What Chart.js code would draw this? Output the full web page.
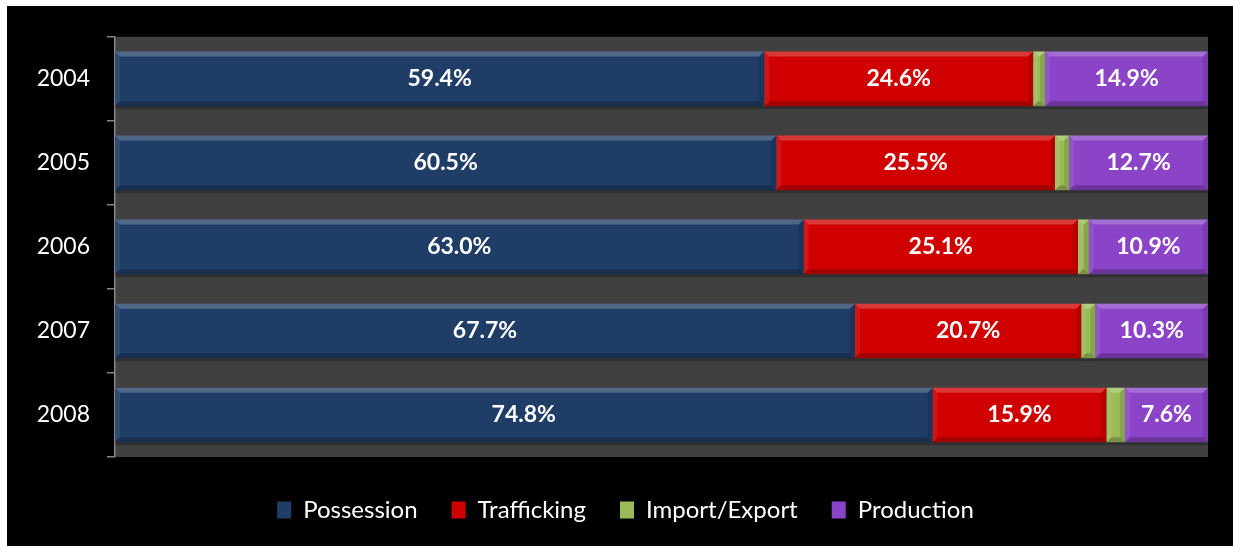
<!DOCTYPE html>
<html>
<head>
<meta charset="utf-8">
<script src="https://cdn.jsdelivr.net/npm/chart.js@4/dist/chart.umd.min.js"></script>
<style>
  html, body { margin: 0; padding: 0; background: #ffffff; }
  #wrap { position: absolute; left: 7px; top: 6px; width: 1226px; height: 540px; background: #000000; }
  canvas { display: block; }
</style>
</head>
<body>
<div id="wrap"><canvas id="c" width="1226" height="540"></canvas></div>
<script>
const categories = ['2004', '2005', '2006', '2007', '2008'];
const seriesNames = ['Possession', 'Trafficking', 'Import/Export', 'Production'];
const possession = [59.4, 60.5, 63.0, 67.7, 74.8];
const trafficking = [24.6, 25.5, 25.1, 20.7, 15.9];
const importExport = [1.1, 1.3, 1.0, 1.3, 1.7];
const production = [14.9, 12.7, 10.9, 10.3, 7.6];
const seriesColors = ['#1F3D67', '#D00000', '#9BBB59', '#8B44C8'];
const showLabels = [true, true, false, true];

const seriesValues = [possession, trafficking, importExport, production];

const plotBg = {
  id: 'plotBg',
  beforeDraw(chart) {
    const { ctx, chartArea: a } = chart;
    ctx.save();
    ctx.fillStyle = '#404040';
    ctx.fillRect(a.left, a.top, a.right - a.left, a.bottom - a.top);
    ctx.restore();
  }
};

const bevel = {
  id: 'bevel',
  afterDatasetsDraw(chart) {
    const ctx = chart.ctx;
    ctx.save();
    chart.data.datasets.forEach((ds, di) => {
      const meta = chart.getDatasetMeta(di);
      meta.data.forEach(el => {
        const x0 = Math.min(el.base, el.x), x1 = Math.max(el.base, el.x);
        const y0 = el.y - el.height / 2, y1 = el.y + el.height / 2;
        const b = Math.min(5, (x1 - x0) / 2);
        ctx.fillStyle = 'rgba(255,255,255,0.22)';
        ctx.beginPath(); ctx.moveTo(x0, y0); ctx.lineTo(x1, y0); ctx.lineTo(x1 - b, y0 + 5); ctx.lineTo(x0 + b, y0 + 5); ctx.closePath(); ctx.fill();
        ctx.fillStyle = 'rgba(0,0,0,0.22)';
        ctx.beginPath(); ctx.moveTo(x0, y1); ctx.lineTo(x1, y1); ctx.lineTo(x1 - b, y1 - 5); ctx.lineTo(x0 + b, y1 - 5); ctx.closePath(); ctx.fill();
        ctx.fillStyle = 'rgba(255,255,255,0.08)';
        ctx.beginPath(); ctx.moveTo(x0, y0); ctx.lineTo(x0 + b, y0 + 5); ctx.lineTo(x0 + b, y1 - 5); ctx.lineTo(x0, y1); ctx.closePath(); ctx.fill();
        ctx.fillStyle = 'rgba(0,0,0,0.12)';
        ctx.beginPath(); ctx.moveTo(x1, y0); ctx.lineTo(x1 - b, y0 + 5); ctx.lineTo(x1 - b, y1 - 5); ctx.lineTo(x1, y1); ctx.closePath(); ctx.fill();
        ctx.fillStyle = 'rgba(0,0,0,0.25)';
        ctx.fillRect(x0, y1, x1 - x0, 3);
      });
    });
    ctx.restore();
  }
};

const valueLabels = {
  id: 'valueLabels',
  afterDatasetsDraw(chart) {
    const ctx = chart.ctx;
    ctx.save();
    ctx.font = 'bold 23px Lato, "Open Sans", sans-serif';
    ctx.fillStyle = '#ffffff';
    ctx.textAlign = 'center';
    ctx.textBaseline = 'middle';
    chart.data.datasets.forEach((ds, di) => {
      if (!showLabels[di]) return;
      const meta = chart.getDatasetMeta(di);
      meta.data.forEach((el, i) => {
        const p = el.getCenterPoint();
        ctx.fillText(ds.data[i].toFixed(1) + '%', p.x, p.y);
      });
    });
    ctx.restore();
  }
};

const legendFit = {
  id: 'legendFit',
  beforeInit(chart) {
    const orig = chart.legend.fit;
    chart.legend.fit = function () { orig.call(this); this.height = 89; };
  },
  afterLayout(chart) {
    chart.legend.left += 18;
    chart.legend.right += 18;
  }
};

new Chart(document.getElementById('c'), {
  type: 'bar',
  data: {
    labels: categories,
    datasets: seriesNames.map((name, i) => ({
      label: name,
      data: seriesValues[i],
      backgroundColor: seriesColors[i],
      borderWidth: 0,
      barPercentage: 0.65,
      categoryPercentage: 1.0
    }))
  },
  options: {
    indexAxis: 'y',
    responsive: false,
    animation: false,
    layout: { padding: { top: 29, right: 25, left: 0, bottom: 0 } },
    scales: {
      x: {
        stacked: true,
        min: 0,
        max: 100,
        display: false
      },
      y: {
        stacked: true,
        afterFit(scale) { scale.width = 108; },
        grid: { display: true, drawOnChartArea: false, drawTicks: true, tickLength: 8, color: '#868686', lineWidth: 1.5, offset: true },
        border: { display: true, color: '#868686', width: 1.5 },
        ticks: { color: '#ffffff', padding: 17, font: { family: 'Lato, "Open Sans", sans-serif', size: 23 } }
      }
    },
    plugins: {
      tooltip: { enabled: false },
      legend: {
        display: true,
        position: 'bottom',
        title: { display: true, text: ' ', color: 'rgba(0,0,0,0)', font: { size: 7, lineHeight: 1 } },
        labels: {
          color: '#ffffff',
          boxWidth: 14,
          boxHeight: 17,
          padding: 34,
          font: { family: 'Lato, "Open Sans", sans-serif', size: 24 }
        }
      }
    }
  },
  plugins: [plotBg, bevel, valueLabels, legendFit]
});
</script>
</body>
</html>
